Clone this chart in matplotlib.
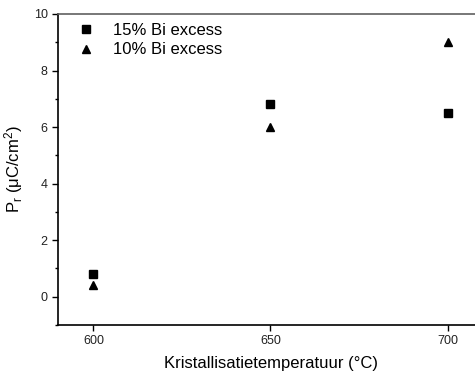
import matplotlib
matplotlib.use('Agg')
import matplotlib.pyplot as plt
from matplotlib.ticker import MultipleLocator

plt.rcParams['font.family'] = 'Liberation Sans'
plt.rcParams['mathtext.fontset'] = 'custom'
plt.rcParams['mathtext.rm'] = 'Liberation Sans'
plt.rcParams['mathtext.it'] = 'Liberation Sans:italic'

temp = [600, 650, 700]
pr_15 = [0.8, 6.8, 6.5]   # 15% Bi excess
pr_10 = [0.4, 6.0, 9.0]   # 10% Bi excess

fig = plt.figure(figsize=(4.75, 3.77), dpi=100)
# axes runs a bit past the right edge of the figure, like the original
ax = fig.add_axes([58/475, 52/377, 425/475, 311/377])

ax.plot(temp, pr_15, 's', color='black', markersize=5.2, label='15% Bi excess')
ax.plot(temp, pr_10, '^', color='black', markersize=5.5, label='10% Bi excess')

ax.set_xlim(590, 710)
ax.set_ylim(-1, 10)
ax.set_xticks([600, 650, 700])
ax.yaxis.set_major_locator(MultipleLocator(2))
ax.yaxis.set_minor_locator(MultipleLocator(1))
ax.tick_params(axis='both', which='major', direction='out', length=4, width=1,
               labelsize=9, labelcolor='#222222')
ax.tick_params(axis='y', which='minor', direction='out', length=2.5, width=1)

for s in ['left', 'bottom']:
    ax.spines[s].set_linewidth(1.2)
ax.spines['top'].set_color('#606060')
ax.spines['top'].set_linewidth(1.2)
ax.spines['right'].set_visible(False)

ax.set_xlabel('Kristallisatietemperatuur (°C)', fontsize=12, labelpad=6)
ax.set_ylabel('P$_\\mathrm{r}$ (μC/cm$^2$)', fontsize=12, labelpad=6)

ax.legend(loc='upper left', bbox_to_anchor=(0.0, 1.022), frameon=False, fontsize=12,
          handletextpad=0.87, labelspacing=0.29, borderaxespad=0.53, handlelength=1.5)

fig.savefig('out.png', dpi=100)
